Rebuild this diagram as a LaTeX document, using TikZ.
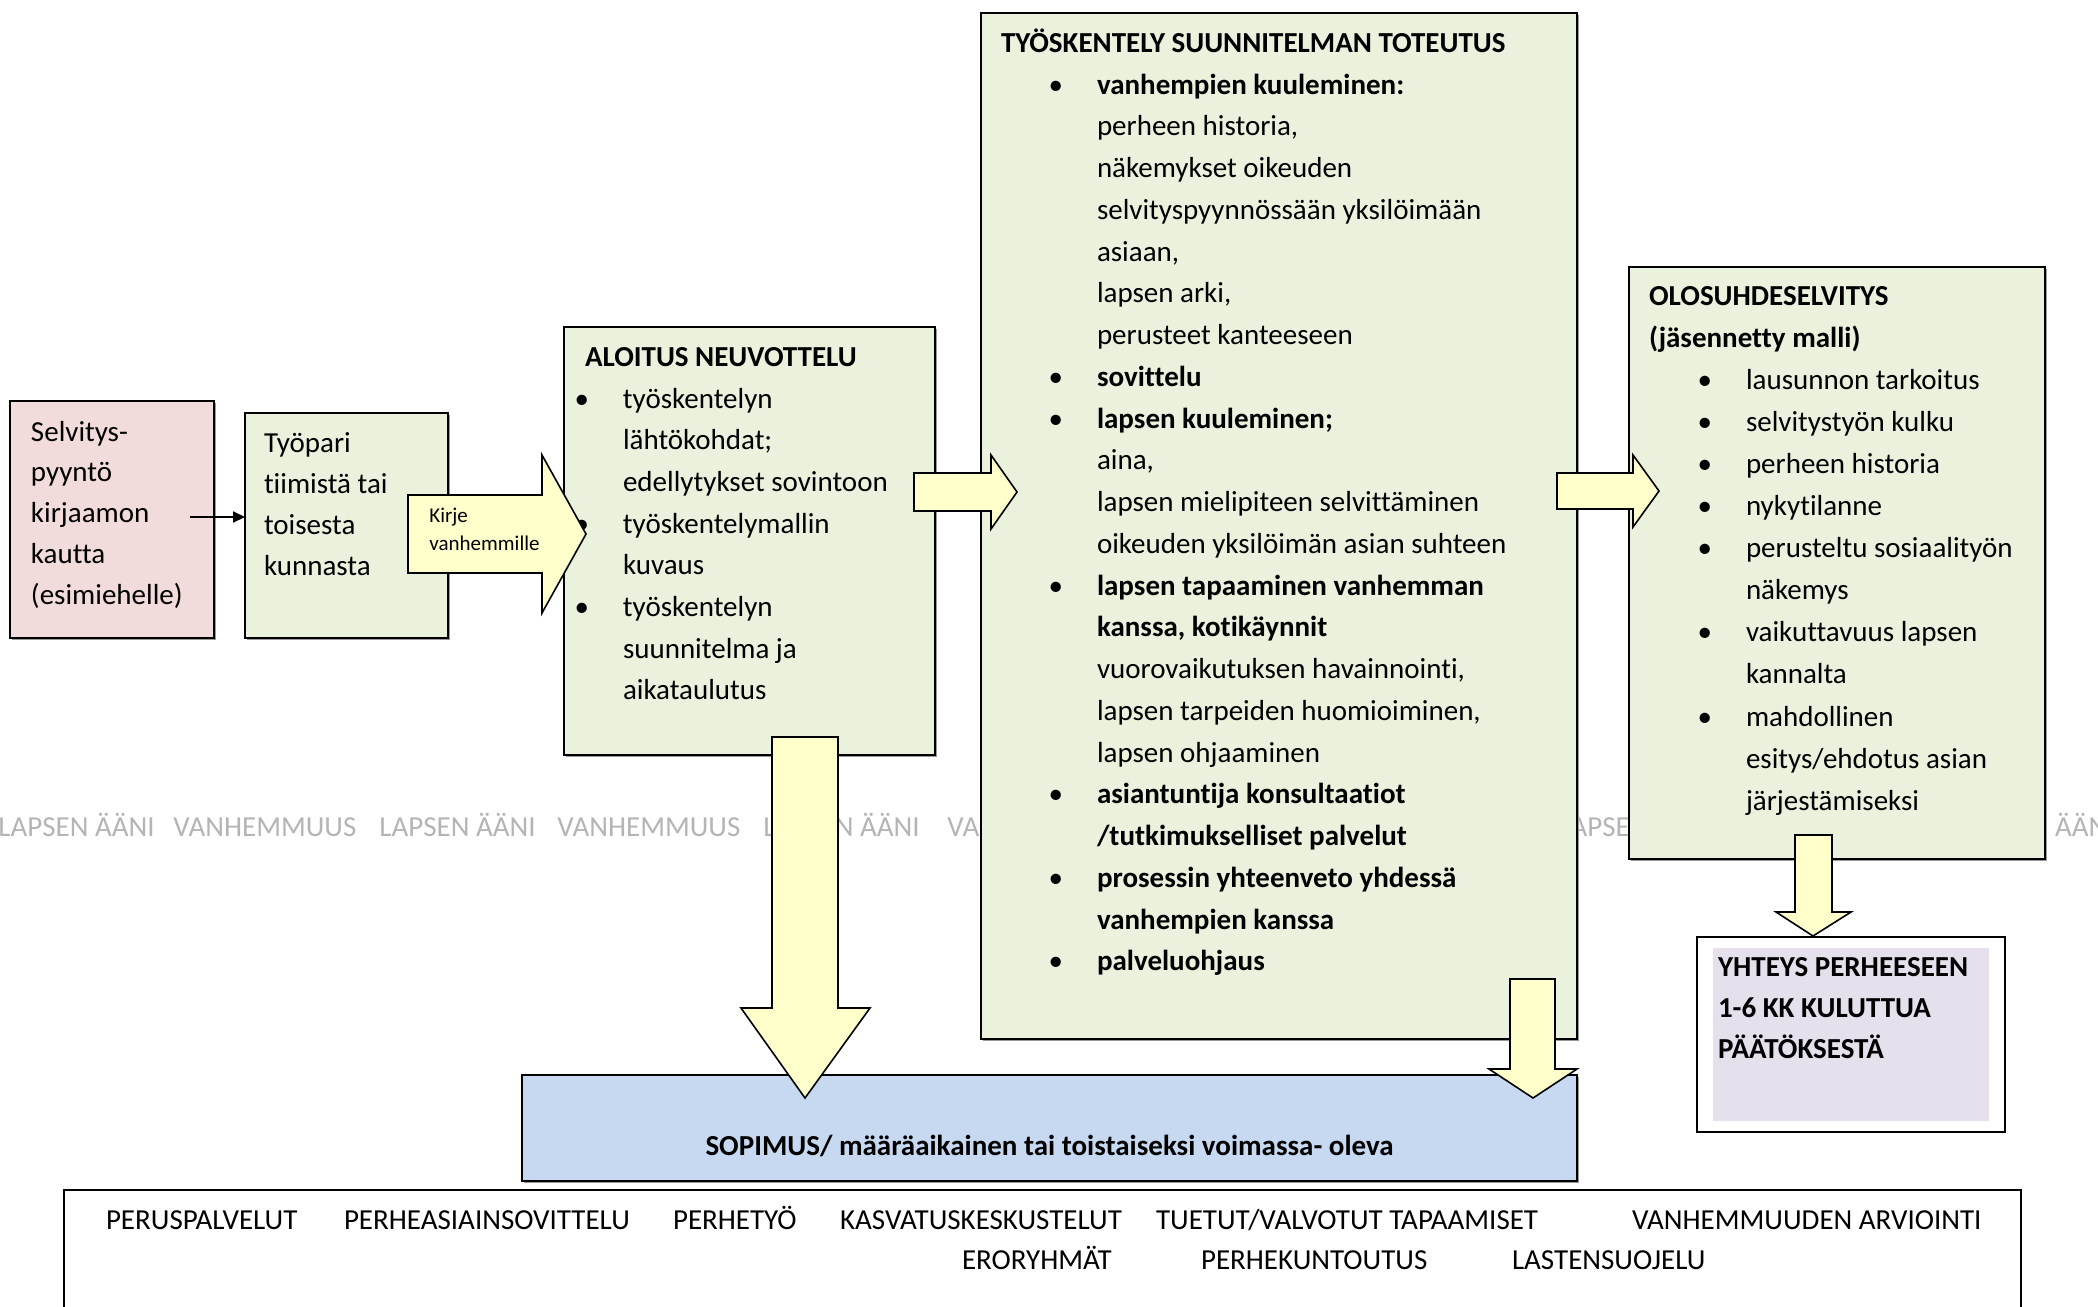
\documentclass[tikz,border=0pt]{standalone}
\usepackage{fontspec}
\setmainfont{Carlito}[Ligatures=NoCommon]
\usetikzlibrary{arrows.meta,shadows}
\definecolor{boxgreen}{HTML}{EAF1DD}
\definecolor{boxpink}{HTML}{F2DCDB}
\definecolor{arrowyellow}{HTML}{FFFFCC}
\definecolor{boxblue}{HTML}{C6D9F1}
\definecolor{boxpurple}{HTML}{E5E0EC}
\definecolor{wmgrey}{HTML}{B4B4B4}
\newcommand\bodyfont{\fontsize{14.5pt}{20pt}\selectfont}
\newcommand\bul{\llap{\textbullet\hspace{17pt}}}
\newcommand\textlines[5]{\foreach \t [count=\i] in {#5}{\node[txtline] (#1\i) at (#2,{#3+(\i-1)*#4}) {\t};}}
\newcommand\boxat[6]{\node[#6, minimum width={(#4-#2)*0.5pt}, minimum height={(#5-#3)*0.5pt}] (#1) at ({(#2+#4)/2},{(#3+#5)/2}) {};}
\tikzset{
  txtline/.style={anchor=base west, inner sep=0pt, outer sep=0pt, font=\bodyfont},
  box/.style={draw=black, line width=1pt, rectangle, inner sep=0pt, outer sep=0pt,
    drop shadow={shadow xshift=1pt, shadow yshift=-1pt, fill=black!40, opacity=1}},
  plainbox/.style={draw=black, line width=1pt, rectangle, inner sep=0pt, outer sep=0pt},
  blockarrow/.style={draw=black, line width=0.8pt, fill=arrowyellow, line join=miter},
  watermark/.style={anchor=base west, inner sep=0pt, font=\bodyfont, text=wmgrey},
  link/.style={draw=black, line width=1pt, -{Triangle[length=6pt,width=5.5pt]}}
}
\begin{document}
\begin{tikzpicture}[x=0.5pt,y=-0.5pt]
\path[use as bounding box] (0,0) rectangle (2098,1306);
\clip (0,0) rectangle (2098,1306);
% watermark line
\foreach \xx [count=\i] in {-2,379,763,1558,1958}{\node[watermark] (wl\i) at (\xx,836) {LAPSEN ÄÄNI};}
\foreach \xx [count=\i] in {173,557,947}{\node[watermark] (wv\i) at (\xx,836) {VANHEMMUUS};}
% boxes
\boxat{sel}{10}{401}{214}{638}{box, fill=boxpink}
\boxat{typ}{245}{413}{448}{638}{box, fill=boxgreen}
\boxat{alo}{564}{327}{935}{755}{box, fill=boxgreen}
\boxat{tyo}{981}{13}{1577}{1039}{box, fill=boxgreen}
\boxat{olo}{1629}{267}{2045}{859}{box, fill=boxgreen}
\boxat{sop}{522}{1075}{1577}{1181}{box, fill=boxblue}
\boxat{yht}{1697}{937}{2005}{1132}{plainbox, fill=white}
\node[fill=boxpurple, inner sep=0pt, minimum width={276*0.5pt}, minimum height={173*0.5pt}] (yhtin) at (1851,1034.5) {};
\boxat{pal}{64}{1190}{2021}{1330}{plainbox, fill=white}
% texts
\textlines{s}{31}{441}{40.8}{Selvitys-,pyyntö,kirjaamon,kautta,(esimiehelle)}
\textlines{p}{264}{452}{41}{Työpari,{tiimistä tai},toisesta,kunnasta}
\node[txtline] (alot) at (585,366) {\textbf{ALOITUS NEUVOTTELU}};
\textlines{a}{623}{408}{41.7}{{\bul työskentelyn},{lähtökohdat;},{edellytykset sovintoon},{\bul työskentelymallin},{kuvaus},{\bul työskentelyn},{suunnitelma ja},{aikataulutus}}
\node[txtline] (tyot) at (1001,52) {\textbf{TYÖSKENTELY SUUNNITELMAN TOTEUTUS}};
\textlines{t}{1097}{94}{41.75}{{\bul\textbf{vanhempien kuuleminen:}},{perheen historia,},{näkemykset oikeuden},{selvityspyynnössään yksilöimään},{asiaan,},{lapsen arki,},{perusteet kanteeseen},{\bul\textbf{sovittelu}},{\bul\textbf{lapsen kuuleminen;}},{aina,},{lapsen mielipiteen selvittäminen},{oikeuden yksilöimän asian suhteen},{\bul\textbf{lapsen tapaaminen vanhemman}},{\textbf{kanssa, kotikäynnit}},{vuorovaikutuksen havainnointi,},{lapsen tarpeiden huomioiminen,},{lapsen ohjaaminen},{\bul\textbf{asiantuntija konsultaatiot}},{\textbf{/tutkimukselliset palvelut}},{\bul\textbf{prosessin yhteenveto yhdessä}},{\textbf{vanhempien kanssa}},{\bul\textbf{palveluohjaus}}}
\textlines{ot}{1649}{305}{42.1}{{\textbf{OLOSUHDESELVITYS}},{\textbf{(jäsennetty malli)}}}
\textlines{o}{1746}{389.2}{42.1}{{\bul lausunnon tarkoitus},{\bul selvitystyön kulku},{\bul perheen historia},{\bul nykytilanne},{\bul perusteltu sosiaalityön},{näkemys},{\bul vaikuttavuus lapsen},{kannalta},{\bul mahdollinen},{esitys/ehdotus asian},{järjestämiseksi}}
\textlines{y}{1718}{976}{41}{{\textbf{YHTEYS PERHEESEEN}},{\textbf{1-6 KK KULUTTUA}},{\textbf{PÄÄTÖKSESTÄ}}}
\node[anchor=base, inner sep=0pt, font=\bodyfont] (sopt) at (1049.5,1155) {\textbf{SOPIMUS/ määräaikainen tai toistaiseksi voimassa- oleva}};
% bottom services
\node[txtline] (b1) at (106,1229) {PERUSPALVELUT};
\node[txtline] (b2) at (344,1229) {PERHEASIAINSOVITTELU};
\node[txtline] (b3) at (673,1229) {PERHETYÖ};
\node[txtline] (b4) at (840,1229) {KASVATUSKESKUSTELUT};
\node[txtline] (b5) at (1156,1229) {TUETUT/VALVOTUT TAPAAMISET};
\node[txtline] (b6) at (1632,1229) {VANHEMMUUDEN ARVIOINTI};
\node[txtline] (b7) at (962,1269) {ERORYHMÄT};
\node[txtline] (b8) at (1201,1269) {PERHEKUNTOUTUS};
\node[txtline] (b9) at (1512,1269) {LASTENSUOJELU};
% connector
\coordinate (selout) at (190,517);
\draw[link] (selout) -- (typ.west |- selout);
% block arrows
\draw[blockarrow] (408,495) -- (542,495) -- (542,455) -- (586,534) -- (542,613) -- (542,573) -- (408,573) -- cycle;
\node[anchor=base west, inner sep=0pt, font=\fontsize{10.5pt}{13pt}\selectfont] (kirje1) at (429,522) {Kirje};
\node[anchor=base west, inner sep=0pt, font=\fontsize{10.5pt}{13pt}\selectfont] (kirje2) at (429,550) {vanhemmille};
\draw[blockarrow] (914,473) -- (991,473) -- (991,455) -- (1017,492) -- (991,529) -- (991,511) -- (914,511) -- cycle;
\draw[blockarrow] (1557,473) -- (1633,473) -- (1633,455) -- (1659,491) -- (1633,527) -- (1633,509) -- (1557,509) -- cycle;
\draw[blockarrow] (772,737) -- (838,737) -- (838,1008) -- (870,1008) -- (805,1098) -- (741,1008) -- (772,1008) -- cycle;
\draw[blockarrow] (1510,979) -- (1555,979) -- (1555,1069) -- (1577,1069) -- (1533,1098) -- (1489,1069) -- (1510,1069) -- cycle;
\draw[blockarrow] (1795,835) -- (1832,835) -- (1832,912) -- (1851,912) -- (1813,936) -- (1776,912) -- (1795,912) -- cycle;
\end{tikzpicture}
\end{document}
